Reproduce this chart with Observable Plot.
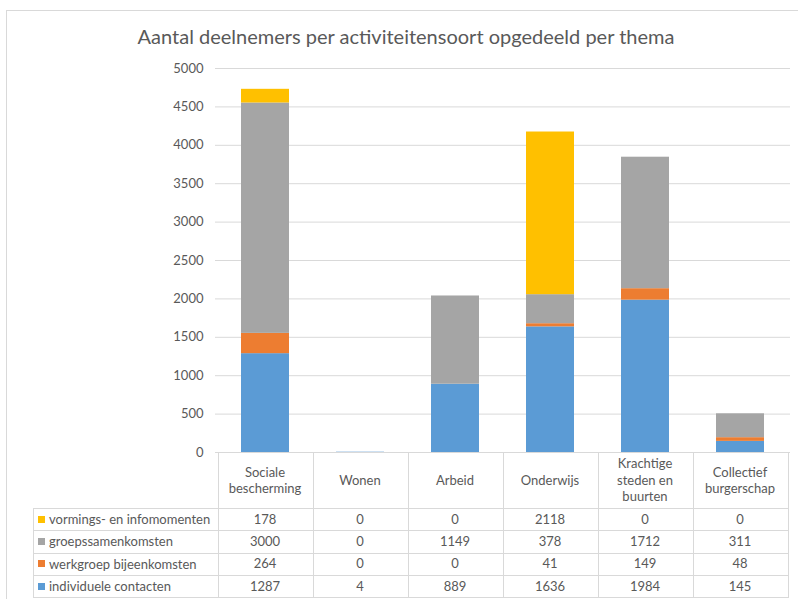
<!DOCTYPE html>
<html>
<head>
<meta charset="utf-8">
<script src="https://cdn.jsdelivr.net/npm/d3@7"></script>
<script src="https://cdn.jsdelivr.net/npm/@observablehq/plot@0.6"></script>
<style>
  html, body { margin: 0; padding: 0; background: #fff; }
  #wrap { position: relative; width: 798px; height: 599px; overflow: hidden; font-family: Lato, "Open Sans", sans-serif; color: #595959; }
  #frame { position: absolute; left: 6px; top: 10px; width: 820px; height: 620px; border-left: 1px solid #D9D9D9; border-top: 1px solid #D9D9D9; box-sizing: border-box; }
  #title { position: absolute; left: 6px; width: 800px; top: 24px; text-align: center; font-size: 20px; color: #595959; white-space: nowrap; }
  #chart { position: absolute; left: 0; top: 0; }
  .line { position: absolute; background: #D9D9D9; }
  .cell { position: absolute; display: flex; align-items: center; justify-content: center; text-align: center; font-size: 13px; line-height: 16.5px; color: #595959; }
  .leg { position: absolute; display: flex; align-items: center; font-size: 13px; color: #595959; white-space: nowrap; }
  .sw { display: inline-block; width: 7px; height: 7px; margin-right: 4px; }
</style>
</head>
<body>
<div id="wrap">
  <div id="frame"></div>
  <div id="title">Aantal deelnemers per activiteitensoort opgedeeld per thema</div>
  <div id="chart"></div>
</div>
<script>
const categories = ["Sociale bescherming", "Wonen", "Arbeid", "Onderwijs", "Krachtige steden en buurten", "Collectief burgerschap"];
const headerLines = [["Sociale", "bescherming"], ["Wonen"], ["Arbeid"], ["Onderwijs"], ["Krachtige", "steden en", "buurten"], ["Collectief", "burgerschap"]];
const seriesNames = ["individuele contacten", "werkgroep bijeenkomsten", "groepssamenkomsten", "vormings- en infomomenten"];
const individueleContacten = [1287, 4, 889, 1636, 1984, 145];
const werkgroepBijeenkomsten = [264, 0, 0, 41, 149, 48];
const groepssamenkomsten = [3000, 0, 1149, 378, 1712, 311];
const vormingsInfomomenten = [178, 0, 0, 2118, 0, 0];
const seriesColors = ["#5B9BD5", "#ED7D31", "#A5A5A5", "#FFC000"];
const yTicks = [0, 500, 1000, 1500, 2000, 2500, 3000, 3500, 4000, 4500, 5000];

const seriesValues = [individueleContacten, werkgroepBijeenkomsten, groepssamenkomsten, vormingsInfomomenten];
const data = [];
seriesNames.forEach((s, si) => categories.forEach((c, ci) => data.push({ cat: c, series: s, value: seriesValues[si][ci] })));

const plot = Plot.plot({
  width: 798,
  height: 453,
  marginLeft: 215,
  marginRight: 8,
  marginTop: 68,
  marginBottom: 1,
  style: { fontFamily: "Lato, 'Open Sans', sans-serif", background: "transparent", overflow: "visible" },
  x: { domain: categories, paddingInner: 0.49, paddingOuter: 0.245, axis: null },
  y: { domain: [0, 5000], axis: null },
  color: { domain: seriesNames, range: seriesColors },
  marks: [
    Plot.gridY(yTicks, { stroke: "#D9D9D9", strokeOpacity: 1, strokeWidth: 1 }),
    Plot.axisY(yTicks, { tickSize: 0, tickPadding: 12, fontSize: 13, fill: "#595959", label: null, tickFormat: d => String(d) }),
    Plot.barY(data, { x: "cat", y: "value", fill: "series", order: seriesNames })
  ]
});
document.getElementById("chart").appendChild(plot);

// Data table aligned with the x band scale
const xs = plot.scale("x");
const wrap = document.getElementById("wrap");
const step = xs.step;
const colLeft = categories.map(c => xs.apply(c) - (step - xs.bandwidth) / 2);
const x0 = colLeft[0];
const xEnd = colLeft[colLeft.length - 1] + step;
const legLeft = 33;
const headerTop = 452, headerBottom = 508, rowH = 22.3;
function line(l, t, w, h) {
  const d = document.createElement("div");
  d.className = "line";
  Object.assign(d.style, { left: l + "px", top: t + "px", width: w + "px", height: h + "px" });
  wrap.appendChild(d);
}
const nRows = seriesNames.length;
const tableBottom = headerBottom + nRows * rowH;
line(x0, headerTop, xEnd - x0, 1);
for (let r = 0; r <= nRows; r++) line(legLeft, headerBottom + r * rowH, xEnd - legLeft, 1);
line(legLeft, headerBottom, 1, tableBottom - headerBottom + 1);
colLeft.forEach(l => line(l, headerTop, 1, tableBottom - headerTop + 1));
line(xEnd, headerTop, 1, tableBottom - headerTop + 1);

categories.forEach((c, ci) => {
  const d = document.createElement("div");
  d.className = "cell";
  Object.assign(d.style, { left: colLeft[ci] + "px", top: headerTop + "px", width: step + "px", height: (headerBottom - headerTop) + "px" });
  d.innerHTML = headerLines[ci].join("<br>");
  wrap.appendChild(d);
});
// rows top-down: reverse of stacking order
const rowOrder = [3, 2, 1, 0];
rowOrder.forEach((si, r) => {
  const top = headerBottom + r * rowH;
  const lg = document.createElement("div");
  lg.className = "leg";
  Object.assign(lg.style, { left: (legLeft + 5) + "px", top: top + "px", height: rowH + "px" });
  const sw = document.createElement("span");
  sw.className = "sw";
  sw.style.background = seriesColors[si];
  lg.appendChild(sw);
  lg.appendChild(document.createTextNode(seriesNames[si]));
  wrap.appendChild(lg);
  categories.forEach((c, ci) => {
    const d = document.createElement("div");
    d.className = "cell";
    Object.assign(d.style, { left: colLeft[ci] + "px", top: top + "px", width: step + "px", height: rowH + "px" });
    d.textContent = String(seriesValues[si][ci]);
    wrap.appendChild(d);
  });
});
</script>
</body>
</html>
